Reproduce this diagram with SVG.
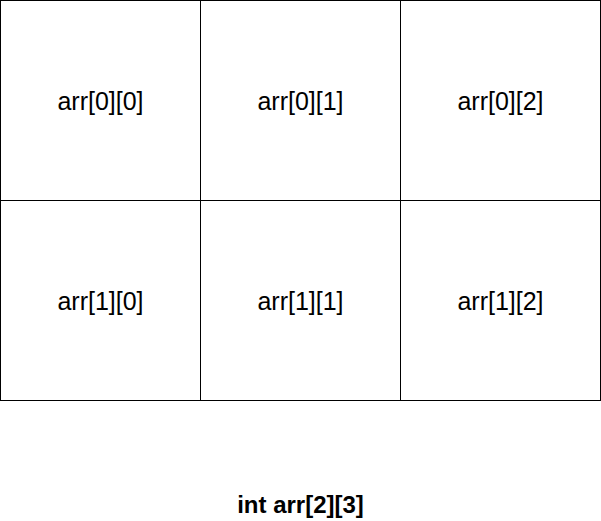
<svg xmlns="http://www.w3.org/2000/svg" width="601" height="521" viewBox="0 0 601 521">
<style>
.cell{fill:#ffffff;stroke:#000000;stroke-width:1}
.lbl{font-family:"Liberation Sans",Arial,sans-serif;font-size:25px;fill:#000000;text-anchor:middle}
.title{font-family:"Liberation Sans",Arial,sans-serif;font-size:24px;font-weight:bold;fill:#000000;text-anchor:middle}
</style>
<rect width="601" height="521" fill="#ffffff"/>
<g id="c00"><rect class="cell" x="0.5" y="0.5" width="200" height="200"/><text class="lbl" x="100.5" y="110">arr[0][0]</text></g>
<g id="c01"><rect class="cell" x="200.5" y="0.5" width="200" height="200"/><text class="lbl" x="300.5" y="110">arr[0][1]</text></g>
<g id="c02"><rect class="cell" x="400.5" y="0.5" width="200" height="200"/><text class="lbl" x="500.5" y="110">arr[0][2]</text></g>
<g id="c10"><rect class="cell" x="0.5" y="200.5" width="200" height="200"/><text class="lbl" x="100.5" y="310">arr[1][0]</text></g>
<g id="c11"><rect class="cell" x="200.5" y="200.5" width="200" height="200"/><text class="lbl" x="300.5" y="310">arr[1][1]</text></g>
<g id="c12"><rect class="cell" x="400.5" y="200.5" width="200" height="200"/><text class="lbl" x="500.5" y="310">arr[1][2]</text></g>
<g id="caption"><text class="title" x="300.5" y="513">int arr[2][3]</text></g>
<g id="connectors"></g>
</svg>
